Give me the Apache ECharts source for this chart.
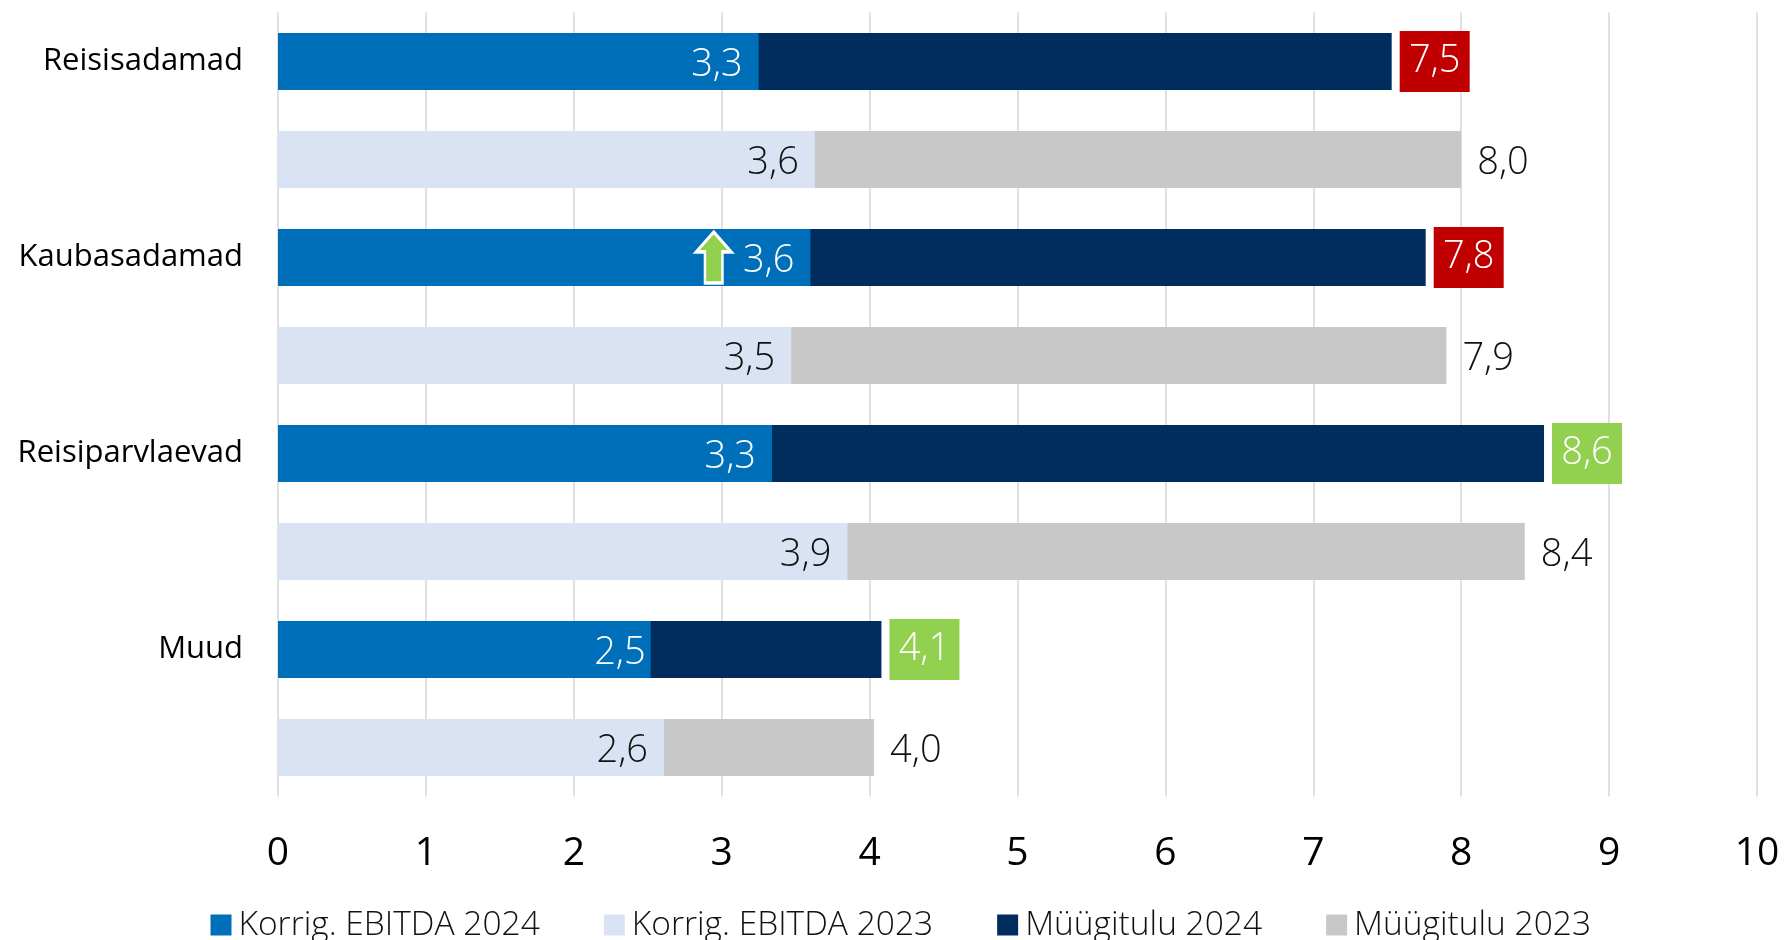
<!DOCTYPE html>
<html>
<head>
<meta charset="utf-8">
<style>html,body{margin:0;padding:0;background:#fff;overflow:hidden}#c{width:1785px;height:940px}</style>
<script src="https://cdn.jsdelivr.net/npm/echarts@6/dist/echarts.min.js"></script>
</head>
<body>
<div id="c"></div>
<script>
const rowLabels = ['Reisisadamad', '', 'Kaubasadamad', '', 'Reisiparvlaevad', '', 'Muud', ''];
const xTicks = [0, 10, 1];
const ebitda2024 = [3.25, null, 3.6, null, 3.34, null, 2.52, null];
const ebitda2023 = [null, 3.63, null, 3.47, null, 3.85, null, 2.61];
const sales2024 = [7.53, null, 7.76, null, 8.56, null, 4.08, null];
const sales2023 = [null, 8.0, null, 7.9, null, 8.43, null, 4.03];
const sales2024Flag = ['#C00000', null, '#C00000', null, '#92D050', null, '#92D050', null];
const ebitda2024LabelShift = [0, 0, 0, 0, 0, 0, 11, 0];
const arrowAt = { value: 2.946, row: 2 };

const FONT = '"Open Sans"';
const LIGHT = 300;
const fmt = v => v.toFixed(1).replace('.', ',');
const fmtParam = p => fmt(typeof p.value === 'number' ? p.value : +p.value);

const base = { type: 'bar', barWidth: 57, barGap: '-100%', silent: true };

const chart = echarts.init(document.getElementById('c'), null, { renderer: 'canvas' });
chart.setOption({
  animation: false,
  backgroundColor: '#fff',
  grid: { left: 278, right: 28, top: 12.5, bottom: 143.5, containLabel: false },
  xAxis: {
    type: 'value', min: xTicks[0], max: xTicks[1], interval: xTicks[2],
    axisLine: { show: false }, axisTick: { show: false },
    splitLine: { show: true, lineStyle: { color: '#E0E0E0', width: 2 } },
    axisLabel: { margin: 38, fontFamily: FONT, fontSize: 39, color: '#000', fontWeight: 400, formatter: v => String(v) }
  },
  yAxis: {
    type: 'category', inverse: true, data: rowLabels.map((n, i) => ({ value: n || (' '.repeat(i + 1)) })),
    axisLine: { show: false }, axisTick: { show: false }, splitLine: { show: false },
    axisLabel: { interval: 0, margin: 35, fontFamily: FONT, fontSize: 31, color: '#000', align: 'right', padding: [6, 0, 0, 0] }
  },
  legend: {
    left: 210.5, top: 908, itemWidth: 21, itemHeight: 21, itemGap: 64, icon: 'rect',
    padding: 0,
    data: ['Korrig. EBITDA 2024', 'Korrig. EBITDA 2023', 'Müügitulu 2024', 'Müügitulu 2023'],
    textStyle: { fontFamily: FONT, fontWeight: LIGHT, fontSize: 33.5, color: '#111', padding: [0, 0, 0, 2] }
  },
  series: [
    { ...base, name: 'Müügitulu 2024', z: 2, itemStyle: { color: '#012D5E' },
      data: sales2024.map((v, i) => v === null ? null : ({
        value: v,
        label: { show: true, position: 'right', distance: 43, formatter: fmtParam, color: '#fff',
          fontFamily: FONT, fontWeight: LIGHT, fontSize: 38, backgroundColor: sales2024Flag[i],
          width: 70, height: 55, lineHeight: 55, padding: [6, 0, 0, 0], align: 'center', verticalAlign: 'middle' }
      })) },
    { ...base, name: 'Müügitulu 2023', z: 2, itemStyle: { color: '#C8C8C8' },
      data: sales2023,
      label: { show: true, position: 'right', distance: 16, formatter: fmtParam, color: '#111', offset: [0, 4],
        fontFamily: FONT, fontWeight: LIGHT, fontSize: 38 } },
    { ...base, name: 'Korrig. EBITDA 2024', z: 3, itemStyle: { color: '#006FBA' },
      data: ebitda2024.map((v, i) => v === null ? null : ({
        value: v,
        label: { offset: [ebitda2024LabelShift[i], 4] }
      })),
      label: { show: true, position: 'insideRight', distance: 16, formatter: fmtParam, color: '#fff',
        fontFamily: FONT, fontWeight: LIGHT, fontSize: 38 },
      markPoint: {
        silent: true, z: 6,
        symbol: 'path://M20 0 L40 21 L30 21 L30 54 L10 54 L10 21 L0 21 Z',
        symbolSize: [35, 51],
        itemStyle: { color: '#92D050', borderColor: '#fff', borderWidth: 3 },
        label: { show: false },
        data: [{ coord: [arrowAt.value, arrowAt.row] }]
      } },
    { ...base, name: 'Korrig. EBITDA 2023', z: 3, itemStyle: { color: '#DAE3F3' },
      data: ebitda2023,
      label: { show: true, position: 'insideRight', distance: 16, formatter: fmtParam, color: '#111', offset: [0, 4],
        fontFamily: FONT, fontWeight: LIGHT, fontSize: 38 } }
  ]
});
</script>
</body>
</html>
